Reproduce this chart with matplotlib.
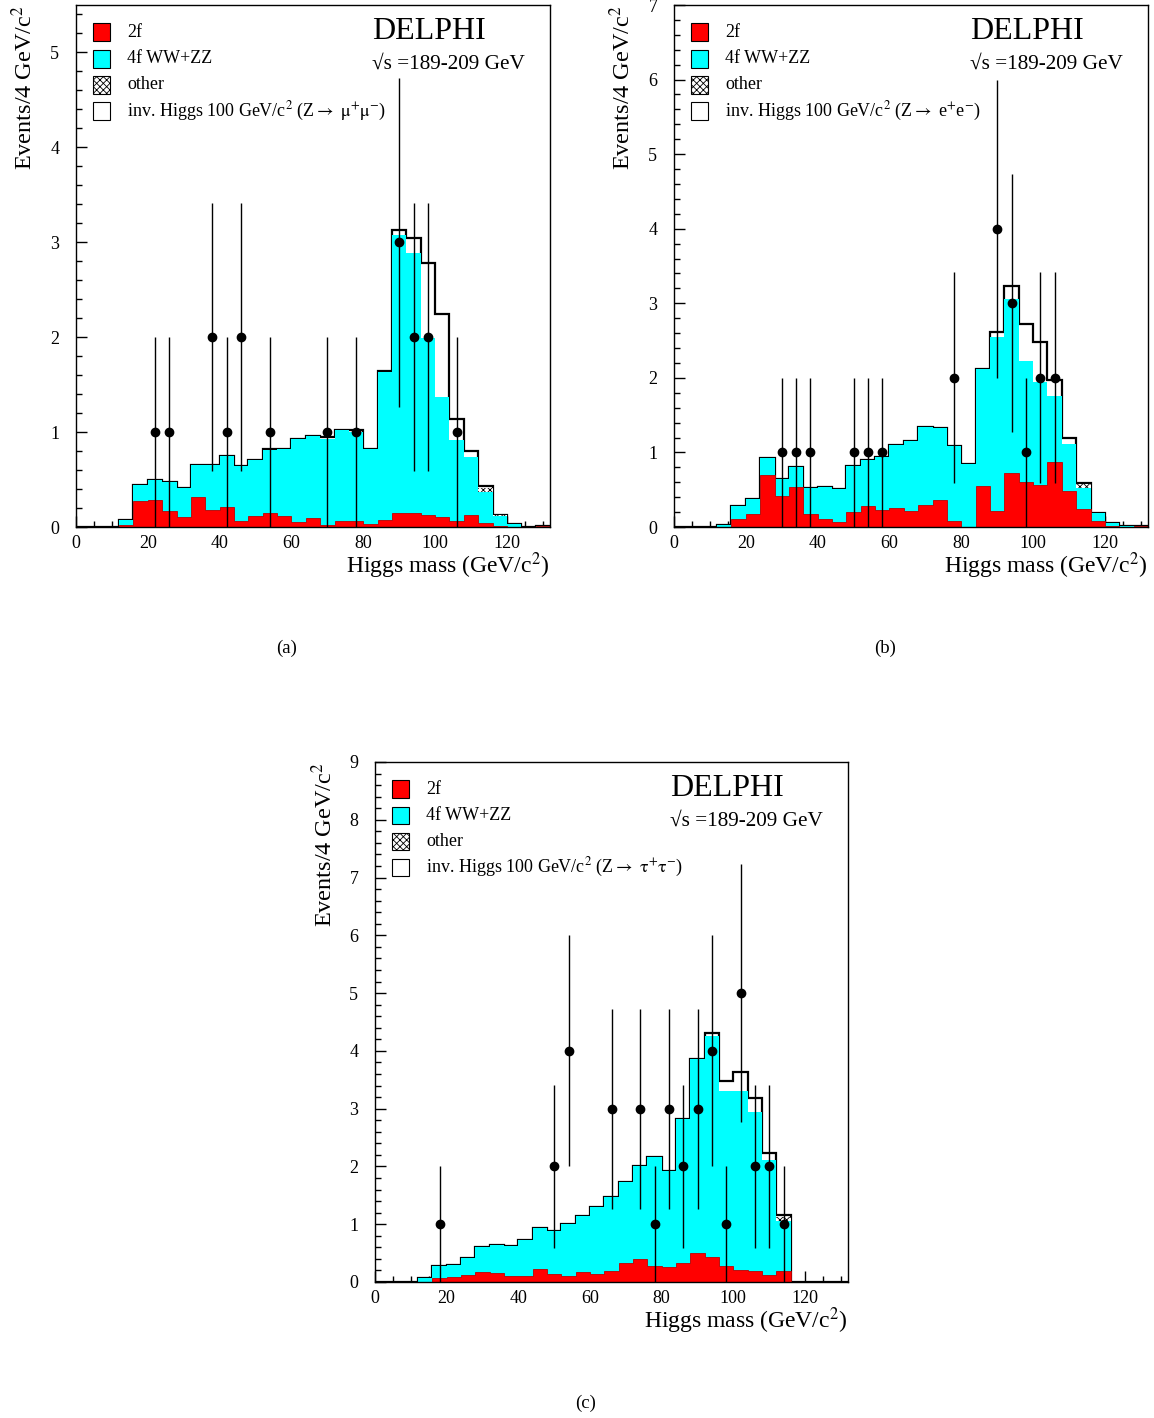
import matplotlib
matplotlib.use("Agg")
import matplotlib.pyplot as plt
import matplotlib.patches as mpatches
import numpy as np

plt.rcParams['font.family'] = ['Liberation Serif', 'DejaVu Serif']
plt.rcParams['mathtext.fontset'] = 'stix'
plt.rcParams['hatch.linewidth'] = 0.6

edges = np.arange(0, 133, 4)  # 4 GeV bins, 0..132

# (a) Z -> mu+ mu-
a_2f = [0, 0, 0, 0.02, 0.27, 0.285, 0.17, 0.105, 0.317, 0.18, 0.21, 0.064, 0.12, 0.148, 0.12, 0.053,
        0.09, 0.02, 0.063, 0.063, 0.03, 0.074, 0.145, 0.145, 0.127, 0.106, 0.06, 0.124, 0.04, 0.01, 0, 0, 0.01]
a_4f = [0, 0, 0, 0.05, 0.17, 0.215, 0.30, 0.31, 0.338, 0.468, 0.54, 0.576, 0.587, 0.662, 0.70, 0.877,
        0.865, 0.91, 0.954, 0.937, 0.79, 1.563, 2.935, 2.741, 1.863, 1.267, 0.859, 0.616, 0.326, 0.11, 0.03, 0.005, 0]
a_other = [0] * 28 + [0.05, 0.005, 0, 0, 0]
a_sig = [0] * 13 + [0.01, 0, 0, 0, 0.02, 0, 0.02, 0, 0.01, 0.045, 0.154, 0.79, 0.867, 0.221, 0.066,
                    0.015, 0.005, 0, 0, 0]
a_mass = [22, 26, 38, 42, 46, 54, 70, 78, 90, 94, 98, 106]
a_nev = [1, 1, 2, 1, 2, 1, 1, 1, 3, 2, 2, 1]

# (b) Z -> e+ e-
b_2f = [0, 0, 0, 0.005, 0.108, 0.18, 0.70, 0.417, 0.534, 0.18, 0.108, 0.067, 0.206, 0.283, 0.229, 0.256,
        0.215, 0.292, 0.363, 0.08, 0, 0.552, 0.215, 0.727, 0.606, 0.565, 0.875, 0.485, 0.242, 0.08, 0.02, 0, 0.01]
b_4f = [0, 0, 0, 0.022, 0.17, 0.197, 0.229, 0.223, 0.266, 0.345, 0.426, 0.449, 0.611, 0.614, 0.704, 0.839,
        0.942, 1.045, 0.97, 1.006, 0.848, 1.561, 2.329, 2.328, 1.614, 1.382, 0.879, 0.628, 0.283, 0.104, 0.029, 0.01, 0]
b_other = [0] * 28 + [0.049, 0.005, 0, 0, 0]
b_sig = [0] * 22 + [0.066, 0.179, 0.508, 0.533, 0.215, 0.076, 0.014, 0, 0, 0, 0]
b_mass = [30, 34, 38, 50, 54, 58, 78, 90, 94, 98, 102, 106]
b_nev = [1, 1, 1, 1, 1, 1, 2, 4, 3, 1, 2, 2]

# (c) Z -> tau+ tau-
c_2f = [0, 0, 0, 0, 0.063, 0.087, 0.121, 0.173, 0.15, 0.104, 0.104, 0.225, 0.138, 0.104, 0.173, 0.138,
        0.19, 0.323, 0.392, 0.277, 0.254, 0.323, 0.502, 0.433, 0.277, 0.208, 0.19, 0.121, 0.19, 0, 0, 0, 0]
c_4f = [0, 0, 0, 0.063, 0.207, 0.213, 0.294, 0.432, 0.49, 0.526, 0.623, 0.703, 0.742, 0.905, 0.974, 1.165,
        1.286, 1.412, 1.608, 1.886, 1.666, 2.503, 3.362, 3.817, 3.027, 3.096, 2.75, 1.984, 0.871, 0, 0, 0, 0]
c_other = [0] * 28 + [0.06, 0, 0, 0, 0]
c_sig = [0] * 23 + [0.06, 0.174, 0.329, 0.243, 0.127, 0.033, 0, 0, 0, 0]
c_mass = [18, 50, 54, 66, 74, 78, 82, 86, 90, 94, 98, 102, 106, 110, 114]
c_nev = [1, 2, 4, 3, 3, 1, 3, 2, 3, 4, 1, 5, 2, 2, 1]


def draw_panel(ax, twof, fourf, other, sig, mass, nev, ymax, chan, tag):
    twof = np.array(twof)
    lvl_4f = twof + np.array(fourf)
    lvl_oth = lvl_4f + np.array(other)
    lvl_tot = lvl_oth + np.array(sig)

    ax.stairs(lvl_tot, edges, fill=True, color='white', zorder=1)
    ax.stairs(lvl_tot, edges, color='black', lw=1.6, zorder=1.5)
    ax.stairs(lvl_oth, edges, fill=True, facecolor='white', edgecolor='black',
              hatch='xxxxx', lw=0, zorder=2)
    ax.stairs(lvl_4f, edges, fill=True, color='cyan', lw=0, zorder=3)
    ax.stairs(twof, edges, fill=True, facecolor='red', edgecolor='#c00000', lw=0.6, zorder=4)

    nev = np.array(nev)
    ax.errorbar(mass, nev, yerr=np.sqrt(nev), fmt='o', color='black', ms=6,
                elinewidth=1, capsize=0, zorder=6)

    ax.set_xlim(0, 132)
    ax.set_ylim(0, ymax)
    ax.set_xticks(np.arange(0, 121, 20))
    ax.set_xticks(np.arange(0, 132, 5), minor=True)
    ax.set_yticks(np.arange(0, int(ymax) + 1, 1))
    ax.set_yticks(np.arange(0, ymax, 0.2), minor=True)
    ax.tick_params(which='both', direction='in', top=False, right=False, labelsize=13, width=1)
    ax.tick_params(which='major', length=8)
    ax.tick_params(which='minor', length=4)
    ax.tick_params(axis='x', pad=6)
    ax.tick_params(axis='y', pad=12)
    for s in ax.spines.values():
        s.set_linewidth(1)
        s.set_zorder(7)

    ax.text(1.0, -0.075, r'Higgs mass (GeV/c$^{2}$)', transform=ax.transAxes,
            ha='right', va='center', fontsize=17)
    ax.text(-0.108, 1.0, r'Events/4 GeV/c$^{2}$', transform=ax.transAxes,
            ha='center', va='top', rotation=90, fontsize=17.5)

    ax.text(0.624, 0.950, 'DELPHI', transform=ax.transAxes, ha='left', va='center', fontsize=23)
    ax.text(0.624, 0.886, '\u221As =189-209 GeV', transform=ax.transAxes,
            ha='left', va='center', fontsize=15.3)

    labels = ['2f', '4f WW+ZZ', 'other',
              r'inv. Higgs 100 GeV/c$^{2}$ (Z$\rightarrow$ ' + chan + ')']
    rows = [0.948, 0.897, 0.847, 0.797]
    boxes = [dict(facecolor='red', edgecolor='black'), dict(facecolor='cyan', edgecolor='black'),
             dict(facecolor='white', hatch='xxxxx', edgecolor='black'),
             dict(facecolor='white', edgecolor='black')]
    for lab, yy, st in zip(labels, rows, boxes):
        ax.add_patch(mpatches.Rectangle((0.036, yy - 0.017), 0.036, 0.034, transform=ax.transAxes,
                                        lw=0.8, zorder=8, **st))
        ax.text(0.108, yy, lab, transform=ax.transAxes, ha='left', va='center', fontsize=13)

    ax.text(0.445, -0.233, tag, transform=ax.transAxes, ha='center', va='center', fontsize=13.5)


fig = plt.figure(figsize=(11.54, 14.18), dpi=100)
ax_a = fig.add_axes([76 / 1154, 1 - 527 / 1418, 474 / 1154, 522 / 1418])
ax_b = fig.add_axes([674 / 1154, 1 - 527 / 1418, 474 / 1154, 522 / 1418])
ax_c = fig.add_axes([375 / 1154, 1 - 1282 / 1418, 473 / 1154, 520 / 1418])

draw_panel(ax_a, a_2f, a_4f, a_other, a_sig, a_mass, a_nev, 5.5, r'$\mathrm{\mu^{+}\mu^{-}}$', '(a)')
draw_panel(ax_b, b_2f, b_4f, b_other, b_sig, b_mass, b_nev, 7.0, r'e$^{+}$e$^{-}$', '(b)')
draw_panel(ax_c, c_2f, c_4f, c_other, c_sig, c_mass, c_nev, 9.0, r'$\mathrm{\tau^{+}\tau^{-}}$', '(c)')

fig.savefig('out.png', dpi=100)
